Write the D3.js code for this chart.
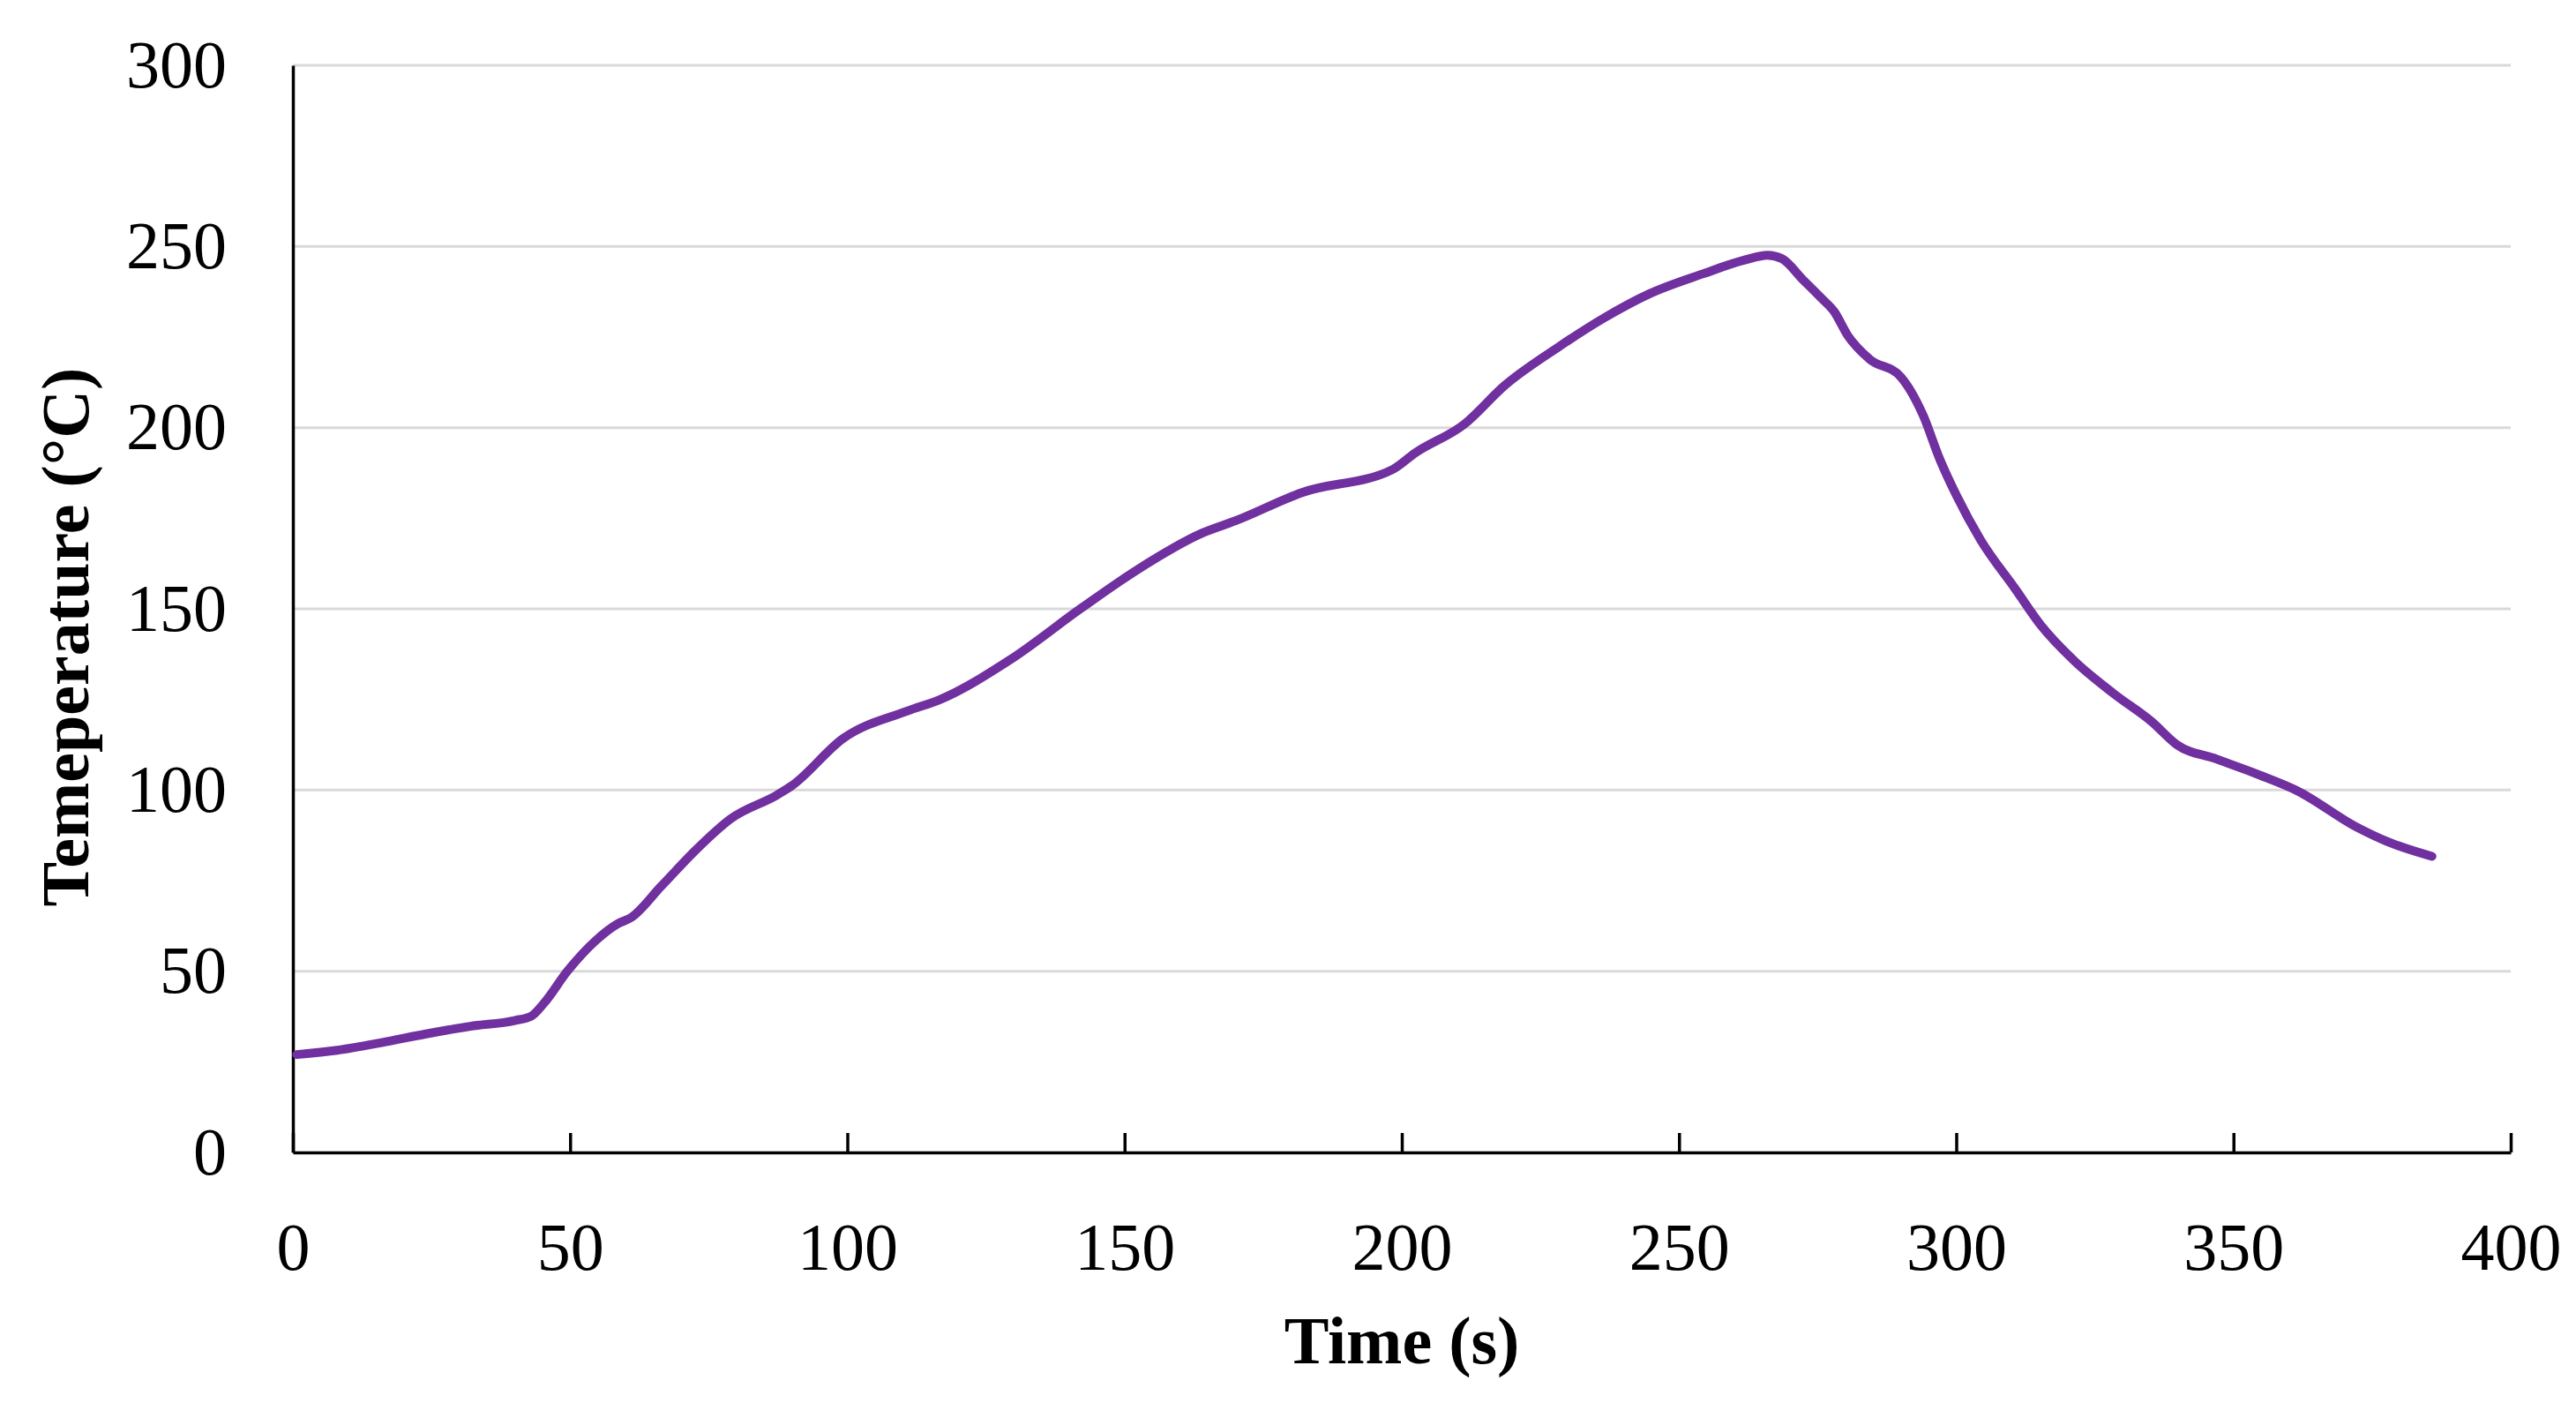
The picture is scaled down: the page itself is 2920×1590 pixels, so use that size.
<!DOCTYPE html>
<html>

<head>
    <meta charset="utf-8">
    <script src="https://d3js.org/d3.v7.min.js"></script>
    <style>
        body {
            margin: 0;
            background: #ffffff;
        }

        svg text {
            font-family: "Palatino Linotype", "Book Antiqua", Palatino, "Liberation Serif", serif;
            fill: #000000;
        }
    </style>
</head>

<body>
    <div id="my_dataviz"></div>
    <script>
        // time (s) and temperature (°C)
        var time = [0.7, 8, 16, 24, 32, 40, 43, 45.3, 49.5, 54.5, 58.6, 61, 66.4, 72.7, 79, 87.4, 90, 99.3,
            111, 116.6, 129.4, 142.2, 152.3, 164, 170, 182, 198.4, 202.4, 211.3, 218.6, 228.3, 236.5, 244.6,
            254.4, 261.7, 266, 268.6, 272.3, 275.5, 278, 280.4, 284.3, 290, 294, 297, 300, 304.4, 310.6,
            315.2, 321.4, 328.4, 335.3, 339.7, 347, 354.6, 361.5, 372.3, 377.7, 385.8];
        var temperature = [27, 28.2, 30.3, 32.7, 34.8, 36.4, 37.6, 41.2, 50, 58.3, 63.1, 64.8, 73.4, 83.5, 92.1,
            98.7, 101.2, 114.3, 121.9, 124.9, 136, 150.2, 160.8, 170.9, 174.3, 182.1, 188.5, 193, 201, 211.7,
            222.3, 230.3, 236.9, 242.5, 246.2, 247.6, 246.6, 240.9, 236, 232, 225.5, 219, 214, 203.5, 191.4,
            181.4, 169, 155.6, 145.6, 135.5, 126.6, 118.8, 112.6, 108.5, 104.2, 99.8, 89.7, 85.8, 81.7];
        var xTicks = [0, 50, 100, 150, 200, 250, 300, 350, 400];
        var yTicks = [0, 50, 100, 150, 200, 250, 300];

        var data = time.map(function (t, i) { return { t: t, v: temperature[i] }; });

        var margin = { top: 74, right: 74, bottom: 284, left: 332 };
        var width = 2920 - margin.left - margin.right;
        var height = 1590 - margin.top - margin.bottom;

        var svg = d3.select("#my_dataviz")
            .append("svg")
            .attr("width", 2920)
            .attr("height", 1590)
            .append("g")
            .attr("transform", "translate(" + margin.left + "," + margin.top + ")");

        var x = d3.scaleLinear().domain([0, 400]).range([0, width]);
        var y = d3.scaleLinear().domain([0, 300]).range([height, 0]);

        // gridlines
        svg.append("g")
            .selectAll("line")
            .data(yTicks.filter(function (d) { return d > 0; }))
            .enter()
            .append("line")
            .attr("x1", 0)
            .attr("x2", width)
            .attr("y1", function (d) { return y(d); })
            .attr("y2", function (d) { return y(d); })
            .attr("stroke", "#d9d9d9")
            .attr("stroke-width", 3);

        // y axis: line + labels only
        var yAxis = svg.append("g")
            .call(d3.axisLeft(y).tickValues(yTicks).tickSize(0).tickPadding(75));
        yAxis.select(".domain").attr("stroke", "#000").attr("stroke-width", 3.5);
        yAxis.selectAll("text").attr("font-size", "76px");

        // x axis with inward ticks
        var xAxis = svg.append("g")
            .attr("transform", "translate(0," + height + ")")
            .call(d3.axisBottom(x).tickValues(xTicks).tickSizeInner(-22).tickSizeOuter(0).tickPadding(0));
        xAxis.select(".domain").attr("stroke", "#000").attr("stroke-width", 3.5);
        xAxis.selectAll(".tick line").attr("stroke", "#000").attr("stroke-width", 3.5);
        xAxis.selectAll("text")
            .attr("font-size", "76px")
            .attr("y", 133)
            .attr("dy", 0);
        d3.selectAll("g[font-family]").attr("font-family", null).attr("font-size", null);

        // line
        svg.append("path")
            .datum(data)
            .attr("fill", "none")
            .attr("stroke", "#7030A0")
            .attr("stroke-width", 10)
            .attr("stroke-linejoin", "round")
            .attr("stroke-linecap", "round")
            .attr("d", d3.line()
                .curve(d3.curveMonotoneX)
                .x(function (d) { return x(d.t); })
                .y(function (d) { return y(d.v); }));

        // axis titles
        svg.append("text")
            .attr("x", width / 2)
            .attr("y", 1545 - margin.top)
            .attr("text-anchor", "middle")
            .attr("font-size", "76px")
            .attr("font-weight", "bold")
            .text("Time (s)");

        svg.append("text")
            .attr("transform", "rotate(-90)")
            .attr("x", -(722 - margin.top))
            .attr("y", 100 - margin.left)
            .attr("text-anchor", "middle")
            .attr("font-size", "76px")
            .attr("font-weight", "bold")
            .text("Temeperature (°C)");
    </script>
</body>

</html>
